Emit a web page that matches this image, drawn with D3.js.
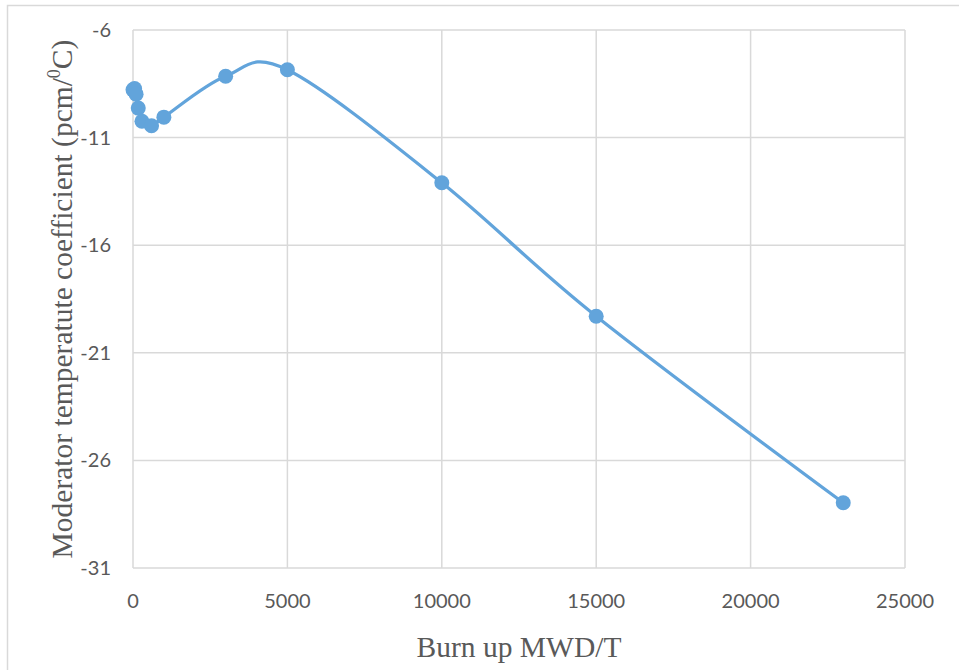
<!DOCTYPE html>
<html>
<head>
<meta charset="utf-8">
<script src="https://cdn.jsdelivr.net/npm/d3@7"></script>
<style>
  body { margin: 0; background: #fff; }
  .tick-label { font-family: Lato, "Open Sans", sans-serif; font-size: 20px; fill: #595959; }
  .axis-title { font-family: "Liberation Serif", "Times New Roman", serif; font-size: 29.5px; fill: #595959; }
</style>
</head>
<body>
<div id="chart-area"></div>
<script>
// burn up (MWD/T) and moderator temperature coefficient (pcm/0C)
const burnup = [0, 50, 100, 170, 290, 600, 1000, 3000, 5000, 10000, 15000, 23000];
const mtc = [-8.78, -8.72, -8.98, -9.63, -10.24, -10.45, -10.05, -8.15, -7.85, -13.1, -19.3, -27.97];

const xTicks = [0, 5000, 10000, 15000, 20000, 25000];
const yTicks = [-6, -11, -16, -21, -26, -31];

const W = 959, H = 670;
const margin = {top: 30, right: 54, bottom: 102, left: 133};
const width = W - margin.left - margin.right;
const height = H - margin.top - margin.bottom;
const blue = "#62A4DB";

const svg = d3.select("#chart-area").append("svg")
    .attr("width", W)
    .attr("height", H);

// outer chart frame (only top and left visible)
svg.append("rect")
    .attr("x", 7.5).attr("y", 5.5)
    .attr("width", W + 20).attr("height", H + 20)
    .attr("fill", "none")
    .attr("stroke", "#D9D9D9")
    .attr("stroke-width", 1.5);

const g = svg.append("g")
    .attr("transform", "translate(" + margin.left + "," + margin.top + ")");

const x = d3.scaleLinear().domain([0, 25000]).range([0, width]);
const y = d3.scaleLinear().domain([-31, -6]).range([height, 0]);

// gridlines
g.selectAll(".hgrid").data(yTicks).enter().append("line")
    .attr("class", "hgrid")
    .attr("x1", 0).attr("x2", width)
    .attr("y1", d => y(d)).attr("y2", d => y(d))
    .attr("stroke", "#D9D9D9").attr("stroke-width", 1.5);

g.selectAll(".vgrid").data(xTicks).enter().append("line")
    .attr("class", "vgrid")
    .attr("y1", 0).attr("y2", height)
    .attr("x1", d => x(d)).attr("x2", d => x(d))
    .attr("stroke", "#D9D9D9").attr("stroke-width", 1.5);

// tick labels
g.selectAll(".ylab").data(yTicks).enter().append("text")
    .attr("class", "tick-label")
    .attr("x", -22)
    .attr("y", d => y(d))
    .attr("dy", "0.35em")
    .attr("text-anchor", "end")
    .text(d => d);

g.selectAll(".xlab").data(xTicks).enter().append("text")
    .attr("class", "tick-label")
    .attr("x", d => x(d))
    .attr("y", height + 40)
    .attr("text-anchor", "middle")
    .text(d => d);

// axis titles
svg.append("text")
    .attr("class", "axis-title")
    .attr("x", margin.left + width / 2)
    .attr("y", 657)
    .attr("text-anchor", "middle")
    .text("Burn up MWD/T");

const yt = svg.append("text")
    .attr("class", "axis-title")
    .attr("transform", "translate(72," + (margin.top + height / 2) + ") rotate(-90)")
    .attr("text-anchor", "middle");
yt.append("tspan").text("Moderator temperatute coefficient (pcm/");
yt.append("tspan").attr("font-size", "18px").attr("dy", "-12").text("0");
yt.append("tspan").attr("dy", "12").text("C)");

// smoothed series line
const pts = burnup.map((b, i) => [b, mtc[i]]);
const line = d3.line()
    .x(d => x(d[0]))
    .y(d => y(d[1]))
    .curve(d3.curveCardinal.tension(0));

g.append("path")
    .datum(pts)
    .attr("fill", "none")
    .attr("stroke", blue)
    .attr("stroke-width", 3.25)
    .attr("d", line);

g.selectAll("circle").data(pts).enter().append("circle")
    .attr("cx", d => x(d[0]))
    .attr("cy", d => y(d[1]))
    .attr("r", 7.5)
    .attr("fill", blue);
</script>
</body>
</html>
